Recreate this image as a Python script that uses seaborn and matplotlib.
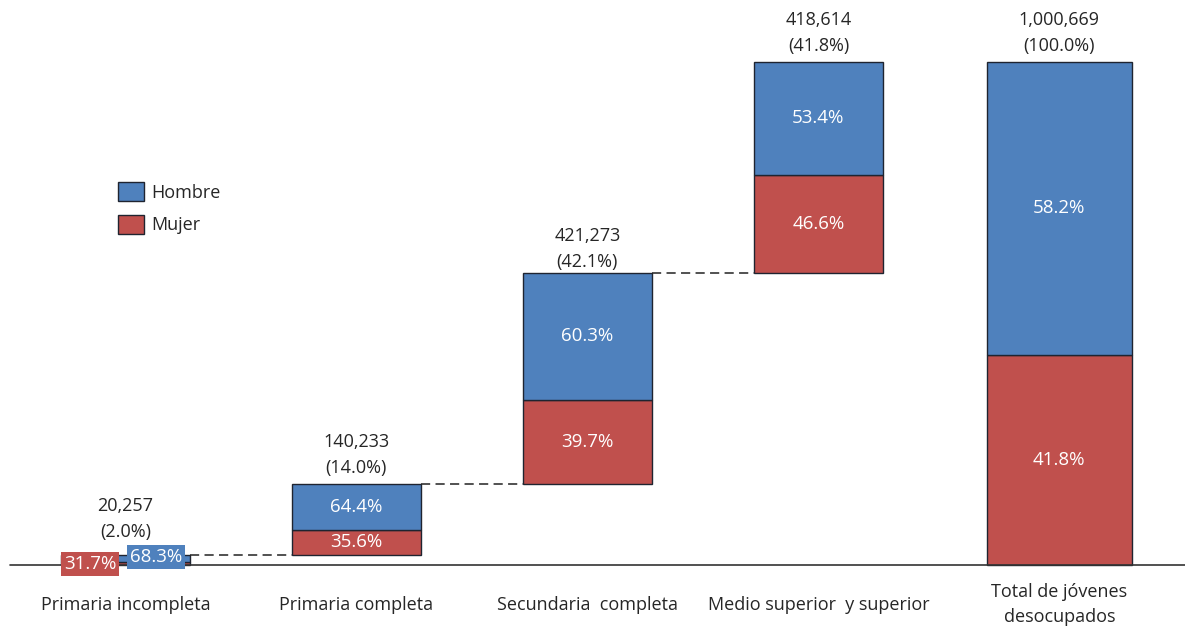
import numpy as np
import pandas as pd
import matplotlib
matplotlib.use("Agg")
import matplotlib.pyplot as plt
from matplotlib.patches import Patch
import seaborn as sns

# datos del gráfico
categorias = ["Primaria incompleta", "Primaria completa", "Secundaria  completa",
              "Medio superior  y superior", "Total de jóvenes\ndesocupados"]
totales = [20257, 140233, 421273, 418614, 1000669]
pct_total = ["2.0%", "14.0%", "42.1%", "41.8%", "100.0%"]
pct_hombre = [68.3, 64.4, 60.3, 53.4, 58.2]
pct_mujer = [31.7, 35.6, 39.7, 46.6, 41.8]

AZUL = "#4F81BD"
ROJO = "#C0504D"
BORDE = "#1f2430"
TEXTO = "#262626"

sns.set_theme(style="white")
plt.rcParams["font.family"] = ["Open Sans", "DejaVu Sans"]

# posiciones (la última barra un poco más separada y más ancha)
pos = np.array([0, 1, 2, 3, 4.043])
anchos = [0.558, 0.558, 0.558, 0.558, 0.628]
# separación (pt) de la etiqueta de total sobre cada barra
sep_etiqueta = [10, 5, 1, 5, 5]

tot = np.array(totales, dtype=float)
base = np.concatenate([[0], np.cumsum(tot[:4])[:-1], [0]])
alt_mujer = tot * np.array(pct_mujer) / 100
alt_hombre = tot - alt_mujer

df = pd.DataFrame({"pos": pos, "base": base, "mujer": alt_mujer,
                   "hombre": alt_hombre, "ancho": anchos})

fig = plt.figure(figsize=(11.85, 6.28), dpi=100)
ax = fig.add_axes([0, 0, 1, 1])

grupos = [df.iloc[:4], df.iloc[4:]]
for g in grupos:
    w = g["ancho"].iloc[0]
    sns.barplot(data=g, x="pos", y="mujer", bottom=g["base"].values, native_scale=True,
                width=w, color=ROJO, saturation=1, edgecolor=BORDE, linewidth=1,
                errorbar=None, ax=ax)
    sns.barplot(data=g, x="pos", y="hombre", bottom=(g["base"] + g["mujer"]).values,
                native_scale=True, width=w, color=AZUL, saturation=1, edgecolor=BORDE,
                linewidth=1, errorbar=None, ax=ax)

# líneas punteadas de conexión
for i in range(3):
    nivel = base[i] + tot[i]
    ax.plot([pos[i] + anchos[i] / 2, pos[i + 1] - anchos[i + 1] / 2], [nivel, nivel],
            ls=(0, (6, 3.5)), color="#222222", lw=1.1)

# eje horizontal
ax.axhline(0, xmin=10 / 1185, xmax=1, color="#333333", lw=1.2)

# etiquetas dentro de las barras
for i in range(1, 5):
    yM = base[i] + alt_mujer[i] / 2
    yH = base[i] + alt_mujer[i] + alt_hombre[i] / 2
    ax.text(pos[i], yM, f"{pct_mujer[i]:.1f}%", ha="center", va="center",
            color="white", fontsize=13.5)
    ax.text(pos[i], yH, f"{pct_hombre[i]:.1f}%", ha="center", va="center",
            color="white", fontsize=13.5)

# primera barra: etiquetas en recuadros
ax.text(pos[0] - 0.153, 2000, f"{pct_mujer[0]:.1f}%", ha="center", va="center",
        color="white", fontsize=13.5,
        bbox=dict(boxstyle="square,pad=0.15", fc=ROJO, ec="none"))
ax.text(pos[0] + 0.133, 16500, f"{pct_hombre[0]:.1f}%", ha="center", va="center",
        color="white", fontsize=13.5,
        bbox=dict(boxstyle="square,pad=0.15", fc=AZUL, ec="none"))

# totales encima de cada barra
for i in range(5):
    cima = base[i] + tot[i]
    ax.annotate(f"{totales[i]:,}\n({pct_total[i]})", (pos[i], cima),
                xytext=(0, sep_etiqueta[i]), textcoords="offset points",
                ha="center", va="bottom", fontsize=13, color=TEXTO, linespacing=1.6)

# categorías
for i in range(5):
    ax.annotate(categorias[i], (pos[i], 0), xytext=(0, -28.5), textcoords="offset points",
                ha="center", va="center", fontsize=13, color=TEXTO,
                linespacing=1.5)

# leyenda
handles = [Patch(fc=AZUL, ec=BORDE, lw=1, label="Hombre"),
           Patch(fc=ROJO, ec=BORDE, lw=1, label="Mujer")]
fig.legend(handles=handles, loc="upper left", bbox_to_anchor=(102 / 1185, 1 - 166 / 628),
           frameon=False, fontsize=13, handlelength=1.4, handleheight=1.25,
           labelspacing=0.72, handletextpad=0.45)

ax.set_xlim(-0.543, 4.587)
ax.set_ylim(-125250, 1124000)
ax.set_axis_off()

fig.savefig("out.png", dpi=100)
